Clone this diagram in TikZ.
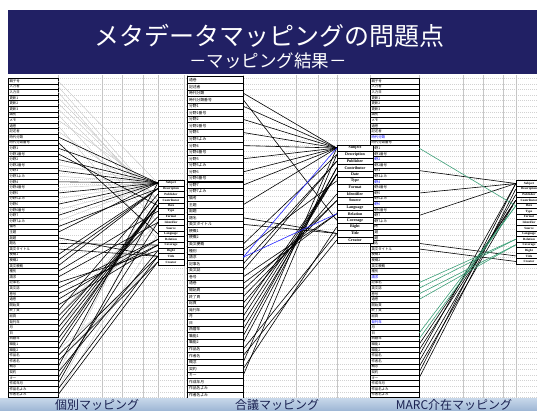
\documentclass[tikz,border=0pt]{standalone}
\usepackage{fontspec}
\newfontfamily\jp{Noto Sans CJK JP}
\newfontfamily\dcf{Liberation Serif}
\definecolor{navy}{RGB}{33,32,100}
\definecolor{grn}{RGB}{60,160,120}
\definecolor{barA}{RGB}{200,216,234}
\definecolor{barB}{RGB}{160,184,214}
\definecolor{bartext}{RGB}{25,32,80}
\tikzset{
  gridh/.style={draw=gray!35, line width=0.3pt, dash pattern=on 1.2pt off 0.8pt},
  gridv/.style={draw=gray!45, line width=0.4pt},
  cellA/.style={draw=black, line width=0.45pt, fill=white, minimum height=5.6pt, inner ysep=0pt, inner xsep=1.5pt, text width=47pt, align=left, font=\jp\fontsize{3.4}{3.4}\selectfont},
  cellB/.style={draw=black, line width=0.45pt, fill=white, minimum height=6.56pt, inner ysep=0pt, inner xsep=2pt, text width=52pt, align=left, font=\jp\fontsize{3.8}{3.8}\selectfont},
  cellC/.style={draw=black, line width=0.45pt, fill=white, minimum height=5.6pt, inner ysep=0pt, inner xsep=1.5pt, text width=46pt, align=left, font=\jp\fontsize{3.4}{3.4}\selectfont},
  dcA/.style={draw=black, line width=0.4pt, fill=white, minimum width=26pt, minimum height=5.64pt, inner sep=0pt, font=\dcf\bfseries\fontsize{3.2}{3.2}\selectfont},
  dcB/.style={draw=black, line width=0.4pt, fill=white, minimum width=36pt, minimum height=6.57pt, inner sep=0pt, font=\dcf\bfseries\fontsize{4}{4}\selectfont},
  blk/.style={draw=black, line width=0.6pt},
  gry/.style={draw=gray!45, line width=0.4pt},
  blu/.style={draw=blue!85, line width=0.6pt},
  grl/.style={draw=grn, line width=0.6pt},
  bartxt/.style={text=bartext, font=\jp\fontsize{12}{12}\selectfont, inner sep=0pt}
}
\def\labsA{親子号,入力者,入力日,更新1,更新2,更新3,識別,メモ,通巻,記述者,時代分類,時代分類番号,分野1,分野1番号,分野2,分野2番号,分野3,分野3よみ,分野4,分野4番号,分野5,分野5よみ,分野6,分野6番号,分野7,分野7よみ,備考,主題,副題,題名,英文タイトル,梗概1,梗概2,英文梗概,種別,請求,記事名,英文誌,巻号,通巻,開始頁,終了頁,総頁,発刊年,月,日,西暦年,職能1,職能2,作品名,作者名,概念,契約,キー,作成年月,作品名よみ,作者名よみ}
\def\labsB{通巻,記述者,時代分類,時代分類番号,分野1,分野1番号,分野2,分野2番号,分野3,分野3よみ,分野4,分野4番号,分野5,分野5よみ,分野6,分野6番号,分野7,分野7よみ,備考,主題,副題,題名,英文タイトル,梗概1,梗概2,英文梗概,種別,請求,記事名,英文誌,巻号,通巻,開始頁,終了頁,総頁,発刊年,月,日,西暦年,職能1,職能2,作品名,作者名,概念,契約,キー,作成年月,作品名よみ,作者名よみ}
\def\labsC{親子号,入力者,入力日,更新1,更新2,更新3,識別,メモ,通巻,記述者,\textcolor{blue}{時代分類},時代分類番号,分野1,分野1番号,\textcolor{blue}{分野2},分野2番号,分野3,分野3よみ,\textcolor{blue}{分野4},分野4番号,分野5,分野5よみ,\textcolor{blue}{分野6},分野6番号,分野7,分野7よみ,備考,主題,副題,題名,英文タイトル,梗概1,梗概2,英文梗概,種別,\textcolor{blue}{請求},記事名,英文誌,巻号,通巻,開始頁,終了頁,総頁,\textcolor{blue}{発刊年},月,日,西暦年,職能1,職能2,作品名,作者名,概念,契約,キー,作成年月,作品名よみ,作者名よみ}
\def\labsDC{Subject,Description,Publisher,Contributor,Date,Type,Format,Identifier,Source,Language,Relation,Coverage,Right,Title,Creator}
\begin{document}
\begin{tikzpicture}[x=1pt,y=-1pt]
\useasboundingbox (0,0) rectangle (537,410);
\fill[white] (0,0) rectangle (537,410);
% spreadsheet grid
\foreach \k in {0,...,57} {\draw[gridh] (58,{78.2+\k*5.6}) -- (537,{78.2+\k*5.6});}
\foreach \x in {58,102,122,143,158,184,187,243,296,318,337,370,419,463,483,503,516} {\draw[gridv] (\x,75) -- (\x,398);}
% title bar
\fill[navy] (8,10) rectangle (537,74);
\node[text=white, font=\jp\fontsize{25}{25}\selectfont, inner sep=0pt] (title) at (269,36) {メタデータマッピングの問題点};
\node[text=white, font=\jp\fontsize{17.5}{17.5}\selectfont, inner sep=0pt] (subtitle) at (268,61) {－マッピング結果－};
% source columns
\foreach \lab [count=\i from 0] in \labsA {\node[cellA] (a\i) at (33,{81+\i*5.6}) {\lab};}
\foreach \lab [count=\i from 0] in \labsB {\node[cellB] (b\i) at (215,{80+\i*6.5625}) {\lab};}
\foreach \lab [count=\i from 0] in \labsC {\node[cellC] (c\i) at (394.5,{81+\i*5.6}) {\lab};}
% DC element boxes
\foreach \lab [count=\i from 0] in \labsDC {
  \node[dcA] (p\i) at (171,{183+\i*5.64}) {\lab};
  \node[dcB] (q\i) at (355,{148+\i*6.57}) {\lab};
  \node[dcA] (r\i) at (529,{183.5+\i*5.57}) {\lab};
}
% panel 1 : individual mapping
\foreach \s/\t in {0/0,1/3,2/4,3/3,4/3,5/4,6/7,7/1,8/10,9/3,15/0,17/0,19/0,21/0,23/0,25/0,40/10,42/4,44/7,46/5,48/14,50/13,52/0,54/4,55/3,56/9}
  {\draw[gry] (a\s.east) -- (p\t.west);}
\foreach \s/\t in {10/0,12/0,14/0,16/0,18/0,20/0,22/0,24/0,11/9,13/4,26/1,27/0,28/13,29/11,30/13,31/1,32/1,33/1,34/5,35/7,36/12,37/10,38/11,39/10,40/11,41/2,42/6,43/4,44/4,45/4,46/4,47/3,48/3,49/13,50/14,51/0,52/12,53/7,54/4,55/13,56/14}
  {\draw[blk] (a\s.east) -- (p\t.west);}
% panel 2 : consensus mapping
\foreach \s/\t in {2/0,4/0,6/0,8/0,10/0,12/0,14/0,16/0,3/11,19/0,21/13,22/13,25/1,26/5,28/2,29/2,30/10,31/10,32/8,33/8,34/7,35/4,36/4,37/4,38/4,39/3,40/3,41/13,42/14,43/0,44/12,45/1}
  {\draw[blk] (b\s.east) -- (q\t.west);}
\foreach \s/\t in {27/0,27/10} {\draw[blu] (b\s.east) -- (q\t.west);}
% panel 3 : MARC mapping
\foreach \s/\t in {16/0,20/0,24/0,29/13,30/14,47/3,48/3,49/0,50/2,51/3,52/0,53/1}
  {\draw[blk] (c\s.east) -- (r\t.west);}
\foreach \s/\t in {12/4,36/10,37/10,38/11,39/11,45/4,46/4}
  {\draw[grl] (c\s.east) -- (r\t.west);}
% bottom bar
\shade[top color=barA, bottom color=barB] (0,398) rectangle (537,410);
\node[bartxt] (l1) at (97,405) {個別マッピング};
\node[bartxt] (l2) at (277,405) {合議マッピング};
\node[bartxt] (l3) at (454,405) {MARC介在マッピング};
\end{tikzpicture}
\end{document}
